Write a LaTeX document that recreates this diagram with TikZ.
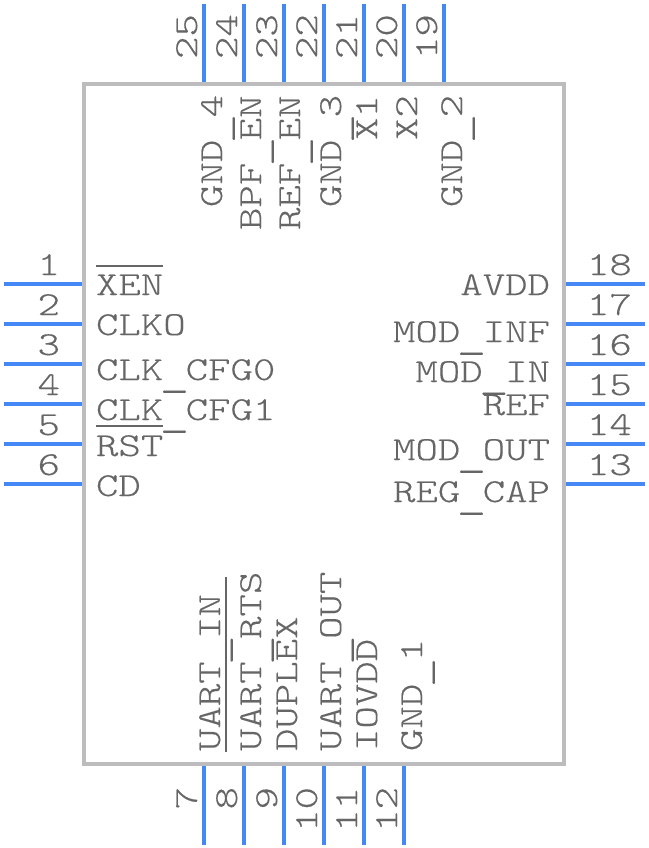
\documentclass[tikz,border=0pt]{standalone}
\usepackage{graphicx}
\usepackage{fontspec}
\setmonofont[FakeStretch=1.275,FakeBold=0.25]{Latin Modern Mono Light}
\definecolor{pinblue}{HTML}{4488F5}
\definecolor{bodygray}{HTML}{BDBDBD}
\definecolor{txtgray}{HTML}{666666}
\newcommand{\usc}{\makebox[22.4pt][c]{\raisebox{-5.1pt}{\scalebox{1.32}[1.3]{\_}}}}
\tikzset{
  x=1pt,y=-1pt,
  pin/.style={draw=pinblue,line width=4pt},
  chipbody/.style={draw=bodygray,line width=4pt},
  lbl/.style={inner sep=0pt,outer sep=0pt,text=txtgray,font=\fontsize{33.5}{35}\selectfont\ttfamily},
  bar/.style={draw=txtgray,line width=1.6pt},
}
\begin{document}
\begin{tikzpicture}
\useasboundingbox (0,0) rectangle (648,848);
\draw[chipbody] (84,84) rectangle (564,764);
% pins
\foreach \y in {284,324,364,404,444,484} {
  \draw[pin] (4,\y) -- (82,\y);
  \draw[pin] (566,\y) -- (645,\y);
}
\foreach \x in {204,244,284,324,364,404,444} \draw[pin] (\x,4) -- (\x,82);
\foreach \x in {204,244,284,324,364,404} \draw[pin] (\x,766) -- (\x,845);
% pin numbers left
\foreach \n/\y in {1/275,2/315,3/355,4/395,5/435,6/475}
  \node[lbl,anchor=base east] (n\n) at (60,\y) {\n};
% pin numbers right
\foreach \n/\y in {18/275,17/315,16/355,15/395,14/435,13/475}
  \node[lbl,anchor=base west] (n\n) at (587,\y) {\n};
% pin numbers top
\foreach \n/\x in {25/197,24/237,23/277,22/317,21/357,20/397,19/437}
  \node[lbl,rotate=90,anchor=base west] (n\n) at (\x,59) {\n};
% pin numbers bottom
\foreach \n/\x in {7/197,8/237,9/277,10/317,11/357,12/397}
  \node[lbl,rotate=90,anchor=base east] (n\n) at (\x,787) {\n};
% left labels
\foreach \k/\t/\y in {a/XEN/295,b/CLKO/335,c/CLK\usc CFG0/380,d/CLK\usc CFG1/420,e/RST/456,f/CD/496}
  \node[lbl,anchor=base west] (l\k) at (96,\y) {\t};
% right labels
\foreach \k/\t/\y in {a/AVDD/295,b/MOD\usc INF/342,c/MOD\usc IN/382,d/REF/415,e/MOD\usc OUT/460,f/REG\usc CAP/502}
  \node[lbl,anchor=base east] (r\k) at (550,\y) {\t};
% top labels
\foreach \k/\t/\x/\y in {a/GND\usc 4/222/207,b/BPF\usc EN/261/230,c/REF\usc EN/300/230,d/GND\usc 3/341/207,e/X1/377/140,f/X2/417/140,g/GND\usc 2/462/207}
  \node[lbl,rotate=90,anchor=base west] (t\k) at (\x,\y) {\t};
% bottom labels
\foreach \k/\t/\x in {a/UART\usc IN/220,b/UART\usc RTS/261,c/DUPLEX/297,d/UART\usc OUT/341,e/IOVDD/377,f/GND\usc 1/422}
  \node[lbl,rotate=90,anchor=base west] (b\k) at (\x,751) {\t};
% overlines
\draw[bar] (96,265.7) -- (163,265.7);
\draw[bar] (96,425.7) -- (163,425.7);
\draw[bar] (225.7,577) -- (225.7,752);
\end{tikzpicture}
\end{document}
